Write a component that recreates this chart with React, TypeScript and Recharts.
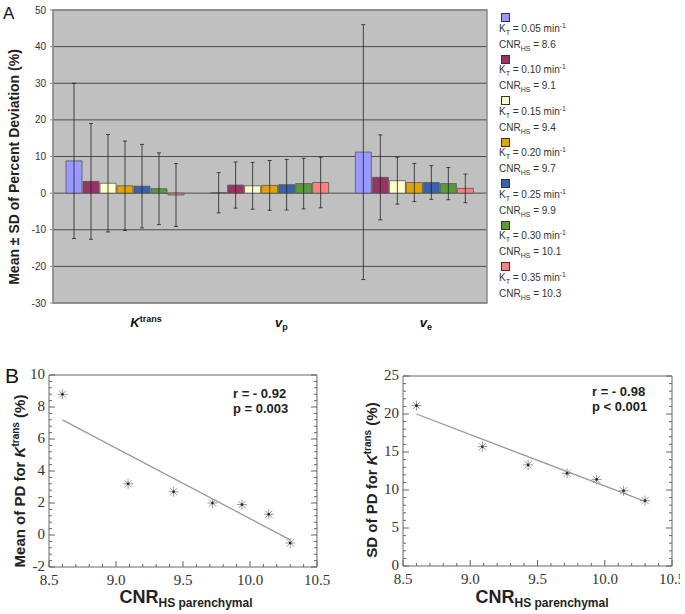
import React from 'react'
import { BarChart, Bar, XAxis, YAxis, CartesianGrid, ErrorBar, ReferenceArea, ScatterChart, Scatter } from 'recharts'

// ---- panel A data ----
const PARAMS = ['Ktrans', 'vp', 've']
const KT_LABELS = ['0.05', '0.10', '0.15', '0.20', '0.25', '0.30', '0.35']
const CNR_LABELS = ['8.6', '9.1', '9.4', '9.7', '9.9', '10.1', '10.3']
const COLORS = ['#9999ff', '#993366', '#ffffcc', '#e2a400', '#3a62ab', '#5b9a3b', '#ff8080']

const MEAN_KTRANS = [8.8, 3.2, 2.7, 2.0, 1.9, 1.2, -0.5]
const SD_KTRANS = [21.2, 15.8, 13.3, 12.2, 11.4, 9.8, 8.6]
const MEAN_VP = [0.1, 2.2, 2.0, 2.1, 2.3, 2.6, 2.9]
const SD_VP = [5.5, 6.3, 6.4, 6.8, 6.9, 6.9, 6.9]
const MEAN_VE = [11.2, 4.3, 3.4, 2.9, 2.9, 2.6, 1.3]
const SD_VE = [34.8, 11.6, 6.4, 5.2, 4.6, 4.4, 3.9]
const A_TICKS = [-30, -20, -10, 0, 10, 20, 30, 40, 50]

// ---- panel B data ----
const CNR_X = [8.6, 9.09, 9.43, 9.72, 9.94, 10.14, 10.3]
const PD_MEAN = [8.8, 3.2, 2.7, 2.0, 1.9, 1.3, -0.5]
const PD_SD = [21.1, 15.7, 13.3, 12.2, 11.4, 9.9, 8.6]
const FIT_MEAN = [{ x: 8.6, y: 7.2 }, { x: 10.3, y: -0.3 }]
const FIT_SD = [{ x: 8.6, y: 20.0 }, { x: 10.3, y: 8.5 }]
const B_X_TICKS = [8.5, 9.0, 9.5, 10.0, 10.5]
const MEAN_Y_TICKS = [-2, 0, 2, 4, 6, 8, 10]
const SD_Y_TICKS = [0, 5, 10, 15, 20, 25]

const means = [MEAN_KTRANS, MEAN_VP, MEAN_VE]
const sds = [SD_KTRANS, SD_VP, SD_VE]
const rowsA = PARAMS.map((p, ci) => {
  const row: any = { param: p }
  COLORS.forEach((_, i) => {
    row['m' + i] = means[ci][i]
    row['e' + i] = sds[ci][i]
  })
  return row
})

const meanPts = CNR_X.map((x, i) => ({ x, y: PD_MEAN[i] }))
const sdPts = CNR_X.map((x, i) => ({ x, y: PD_SD[i] }))

// minor tick grid between majors
function minorTicks(lo: number, hi: number, step: number) {
  const out: number[] = []
  const n = Math.round((hi - lo) / step)
  for (let i = 0; i <= n; i++) out.push(+(lo + i * step).toFixed(4))
  return out
}

const SYMBOLS: Record<string, [string, string, boolean]> = {
  Ktrans: ['K', 'trans', true],
  vp: ['v', 'p', false],
  ve: ['v', 'e', false],
}

function ParamTick({ x, y, payload }: any) {
  const [base, script, sup] = SYMBOLS[payload.value]
  return (
    <text x={x + 5} y={y + 16} fontFamily="Arial, Liberation Sans" fontWeight="bold" fontSize={13} fill="#111">
      <tspan fontStyle="italic">{base}</tspan>
      <tspan fontSize={9} dy={sup ? -5 : 3}>{script}</tspan>
    </text>
  )
}

function BTick({ x, y, payload, side, majors, fmt }: any) {
  const v = payload.value
  const isMajor = majors.some((m: number) => Math.abs(m - v) < 1e-6)
  const len = isMajor ? 6 : 3
  const st = { stroke: '#666', strokeWidth: 1 }
  const font = { fontFamily: 'Liberation Serif, Times New Roman, serif', fontSize: 15, fill: '#333' }
  if (side === 'bottom') {
    return (
      <g>
        <line x1={x} y1={y} x2={x} y2={y - len} {...st} />
        {isMajor && <text x={x} y={y + 18} textAnchor="middle" {...font}>{fmt(v)}</text>}
      </g>
    )
  }
  if (side === 'top') return <line x1={x} y1={y} x2={x} y2={y + len} {...st} />
  if (side === 'left') {
    return (
      <g>
        <line x1={x} y1={y} x2={x + len} y2={y} {...st} />
        {isMajor && <text x={x - 4} y={y + 4} textAnchor="end" {...font}>{fmt(v)}</text>}
      </g>
    )
  }
  return <line x1={x} y1={y} x2={x - len} y2={y} {...st} />
}

function Asterisk({ cx, cy }: any) {
  const r = 5
  const d = r * 0.72
  return (
    <g stroke="#9a9a9a" strokeWidth={1}>
      <line x1={cx - r} y1={cy} x2={cx + r} y2={cy} />
      <line x1={cx} y1={cy - r} x2={cx} y2={cy + r} />
      <line x1={cx - d} y1={cy - d} x2={cx + d} y2={cy + d} />
      <line x1={cx - d} y1={cy + d} x2={cx + d} y2={cy - d} />
      <circle cx={cx} cy={cy} r={1.3} fill="#222" stroke="none" />
    </g>
  )
}

const fmt1 = (v: number) => v.toFixed(1)
const fmt0 = (v: number) => String(v)

function ScatterPanel({ pts, fit, yDomain, yTicks, yStep, margin }: any) {
  const xMinor = minorTicks(8.5, 10.5, 0.1)
  const yMinor = minorTicks(yDomain[0], yDomain[1], yStep)
  const common = { type: 'number' as const, allowDataOverflow: true, interval: 0 as const, tickSize: 0, tickMargin: 0, tickLine: false, axisLine: { stroke: '#666' } }
  return (
    <ScatterChart width={340} height={284} margin={margin}>
      <XAxis xAxisId="b" dataKey="x" domain={[8.5, 10.5]} ticks={xMinor} height={1} {...common}
        tick={<BTick side="bottom" majors={B_X_TICKS} fmt={fmt1} />} />
      <XAxis xAxisId="t" orientation="top" domain={[8.5, 10.5]} ticks={xMinor} height={1} {...common}
        tick={<BTick side="top" majors={B_X_TICKS} fmt={fmt1} />} />
      <YAxis yAxisId="l" dataKey="y" domain={yDomain} ticks={yMinor} width={1} {...common}
        tick={<BTick side="left" majors={yTicks} fmt={fmt0} />} />
      <YAxis yAxisId="r" orientation="right" domain={yDomain} ticks={yMinor} width={1} {...common}
        tick={<BTick side="right" majors={yTicks} fmt={fmt0} />} />
      <Scatter xAxisId="b" yAxisId="l" data={fit} line={{ stroke: '#9a9a9a', strokeWidth: 1.3 }} shape={() => <g />} isAnimationActive={false} />
      <Scatter xAxisId="b" yAxisId="l" data={pts} shape={<Asterisk />} isAnimationActive={false} />
    </ScatterChart>
  )
}

function Legend() {
  return (
    <div style={{ position: 'absolute', left: 0, top: 0, fontFamily: 'Arial, Liberation Sans', fontSize: 10, color: '#333' }}>
      {COLORS.map((c, i) => {
        const top = 13 + i * 41.5
        return (
          <React.Fragment key={c}>
            <div style={{ position: 'absolute', left: 501, top, width: 7, height: 7, background: c, border: '1px solid #333' }} />
            <div style={{ position: 'absolute', left: 499, top: top + 7.5, lineHeight: '15px', whiteSpace: 'nowrap' }}>
              <div>K<span style={{ fontSize: 7, position: 'relative', top: 3 }}>T</span> = {KT_LABELS[i]} min<span style={{ fontSize: 7, position: 'relative', top: -4 }}>-1</span></div>
              <div>CNR<span style={{ fontSize: 7, position: 'relative', top: 3 }}>HS</span> = {CNR_LABELS[i]}</div>
            </div>
          </React.Fragment>
        )
      })}
    </div>
  )
}

function Titles() {
  const sans = 'Arial, Liberation Sans'
  return (
    <svg width={685} height={614} style={{ position: 'absolute', left: 0, top: 0, pointerEvents: 'none' }}>
      <text x={3} y={19} fontFamily={sans} fontSize={17} fill="#111">A</text>
      <text x={5} y={383} fontFamily={sans} fontSize={21} fill="#111">B</text>
      <text transform="translate(19,167) rotate(-90)" textAnchor="middle" fontFamily={sans} fontWeight="bold" fontSize={14} fill="#222">
        Mean ± SD of Percent Deviation (%)
      </text>
      <text transform="translate(25,481) rotate(-90)" textAnchor="middle" fontFamily={sans} fontWeight="bold" fontSize={15} fill="#222">
        Mean of PD for <tspan fontStyle="italic">K</tspan><tspan fontSize={10} dy={-6}>trans</tspan><tspan dy={6}>  (%)</tspan>
      </text>
      <text transform="translate(377,480) rotate(-90)" textAnchor="middle" fontFamily={sans} fontWeight="bold" fontSize={15} fill="#222">
        SD of PD for <tspan fontStyle="italic">K</tspan><tspan fontSize={10} dy={-6}>trans</tspan><tspan dy={6}>  (%)</tspan>
      </text>
      {[186, 542].map(cx => (
        <text key={cx} x={cx} y={603} textAnchor="middle" fontFamily={sans} fontWeight="bold" fontSize={18} fill="#222">
          CNR<tspan fontSize={12} dy={4}>HS parenchymal</tspan>
        </text>
      ))}
      <text x={233} y={398} fontFamily={sans} fontWeight="bold" fontSize={13} fill="#222">r = - 0.92</text>
      <text x={233} y={413} fontFamily={sans} fontWeight="bold" fontSize={13} fill="#222">p = 0.003</text>
      <text x={592} y={396} fontFamily={sans} fontWeight="bold" fontSize={13} fill="#222">r = - 0.98</text>
      <text x={592} y={411} fontFamily={sans} fontWeight="bold" fontSize={13} fill="#222">p &lt; 0.001</text>
    </svg>
  )
}

export default function App() {
  return (
    <div style={{ position: 'absolute', left: 0, top: 0, width: 685, height: 614, background: '#fff', overflow: 'hidden' }}>
      <div style={{ position: 'absolute', left: 0, top: 0 }}>
        <BarChart width={495} height={335} data={rowsA} margin={{ top: 10, right: 8, left: 8, bottom: 0 }} barCategoryGap={13} barGap={1}>
          <CartesianGrid vertical={false} stroke="#4d4d4d" fill="#c0c0c0" />
          <XAxis dataKey="param" height={32} tickLine={false} axisLine={false} interval={0} tick={<ParamTick />} />
          <YAxis width={45} domain={[-30, 50]} ticks={A_TICKS} interval={0} tickSize={3} tickMargin={4}
            tick={{ fontSize: 10, fill: '#333', fontFamily: 'Arial, Liberation Sans' }}
            axisLine={{ stroke: '#8a8a8a' }} tickLine={{ stroke: '#8a8a8a' }} />
          <ReferenceArea y1={-30} y2={50} fill="none" stroke="#8a8a8a" strokeWidth={1.5} />
          {COLORS.map((c, i) => (
            <Bar key={c} dataKey={'m' + i} fill={c} stroke="#555" strokeWidth={0.8} isAnimationActive={false}>
              <ErrorBar dataKey={'e' + i} width={2} stroke="#222" strokeWidth={0.8} direction="y" />
            </Bar>
          ))}
        </BarChart>
      </div>
      <Legend />
      <div style={{ position: 'absolute', left: 0, top: 330 }}>
        <ScatterPanel pts={meanPts} fit={FIT_MEAN} yDomain={[-2, 10]} yTicks={MEAN_Y_TICKS} yStep={0.4}
          margin={{ top: 44, right: 22, bottom: 46, left: 48 }} />
      </div>
      <div style={{ position: 'absolute', left: 340, top: 330 }}>
        <ScatterPanel pts={sdPts} fit={FIT_SD} yDomain={[0, 25]} yTicks={SD_Y_TICKS} yStep={1}
          margin={{ top: 45, right: 7, bottom: 47, left: 62 }} />
      </div>
      <Titles />
    </div>
  )
}
